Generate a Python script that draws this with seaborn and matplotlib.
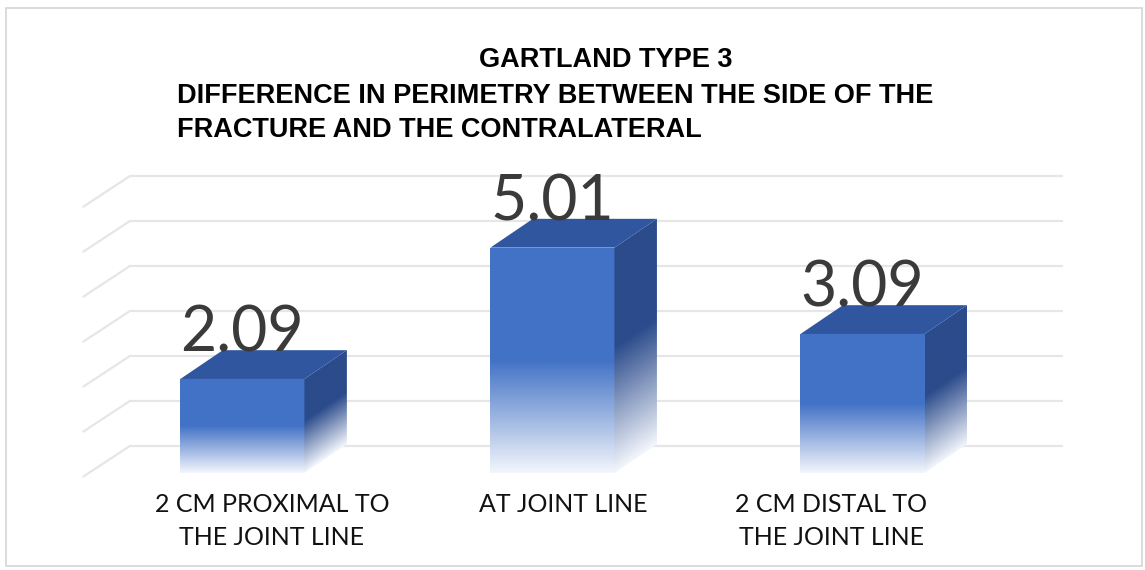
import numpy as np
import pandas as pd
import seaborn as sns
import matplotlib.pyplot as plt
from matplotlib.patches import Polygon, Rectangle
from matplotlib.colors import to_rgb

# data
categories = ["2 CM PROXIMAL TO\nTHE JOINT LINE", "AT JOINT LINE", "2 CM DISTAL TO\nTHE JOINT LINE"]
values = [2.09, 5.01, 3.09]
value_labels = ["2.09", "5.01", "3.09"]
grid_levels = [0, 1, 2, 3, 4, 5, 6]

title_top = "GARTLAND TYPE 3"
title_rest = "DIFFERENCE IN PERIMETRY BETWEEN THE SIDE OF THE\nFRACTURE AND THE CONTRALATERAL"

# look
front_col = to_rgb("#4272c6")
top_col = to_rgb("#2f569f")
side_col = to_rgb("#2b4b8b")
fade_col = to_rgb("#f3f6fc")
grid_col = "#e6e6e6"
dx, dy = 0.137, 0.64          # depth offset of the 3d boxes (data units)
label_shift = [0.095, 0.035, -0.10]

sns.set_style("white")
plt.rcParams['font.family'] = ['Lato', 'DejaVu Sans']

W, H = 1145, 570
fig = plt.figure(figsize=(W / 100, H / 100), dpi=100)
ax = fig.add_axes([70 / W, (H - 480) / H, 1030 / W, 330 / H])

df = pd.DataFrame({"cat": categories, "val": values})
sns.barplot(data=df, x="cat", y="val", width=0.40, color=front_col, ax=ax, zorder=3)


def ramp(f, base):
    # solid in the upper half, fading to white at the floor
    t = np.clip(f / 0.5, 0, 1)[..., None]
    rgb = np.array(fade_col) * (1 - t) + np.array(base) * t
    return rgb


# back wall gridlines + left side wall
x_back_left = -0.363
x_back_right = 2.643
for g in grid_levels:
    yy = g + 0.6
    ax.plot([x_back_left, x_back_right], [yy, yy], color=grid_col, lw=1.6, zorder=1)
    ax.plot([x_back_left - 0.15, x_back_left], [yy - 0.68, yy], color=grid_col, lw=1.6, zorder=1)

bars = list(ax.patches)
for bar, v, lab in zip(bars, values, value_labels):
    x0 = bar.get_x()
    x1 = x0 + bar.get_width()
    bar.set_facecolor("none")
    bar.set_edgecolor("none")

    # front face gradient
    fy = np.linspace(1, 0, 200)
    img = ramp(fy, front_col)[:, None, :]
    im = ax.imshow(img, extent=[x0, x1, 0, v], aspect="auto", zorder=3,
                   interpolation="bilinear")
    im.set_clip_path(bar)

    # side face
    side = Polygon([(x1, 0), (x1 + dx, dy), (x1 + dx, v + dy), (x1, v)],
                   closed=True, facecolor="none", edgecolor="none", zorder=3)
    ax.add_patch(side)
    gx = np.linspace(x1, x1 + dx, 60)
    gy = np.linspace(v + dy, 0, 300)
    XX, YY = np.meshgrid(gx, gy)
    hh = YY - (XX - x1) / dx * dy
    simg = ramp(hh / v * 0.9, side_col)
    im2 = ax.imshow(simg, extent=[x1, x1 + dx, 0, v + dy], aspect="auto", zorder=3,
                    interpolation="bilinear")
    im2.set_clip_path(side)

    # top face
    top = Polygon([(x0, v), (x0 + dx, v + dy), (x1 + dx, v + dy), (x1, v)],
                  closed=True, facecolor=top_col, edgecolor="none", zorder=4)
    ax.add_patch(top)

    ax.text((x0 + x1) / 2, v + dy - 0.03, lab, ha="center", va="baseline",
            fontsize=45, color="#3a3a3a", zorder=5)

ax.set_xlim(-0.556, 2.766)
ax.set_ylim(-0.156, 7.18)
ax.set_xlabel("")
ax.set_ylabel("")
ax.set_yticks([])
ax.set_xticks(np.arange(len(categories)) + np.array(label_shift))
ax.set_xticklabels(categories, fontsize=18, color="#111111", linespacing=1.55)
ax.tick_params(axis="x", length=0, pad=9)
sns.despine(ax=ax, left=True, bottom=True)

title_font = ["Liberation Sans", "DejaVu Sans"]
fig.text(606 / W, 1 - 60 / H, title_top, ha="center", va="center", color="black",
         fontsize=19.5, fontweight="bold", family=title_font)
fig.text(177 / W, 1 - 113 / H, title_rest, ha="left", va="center", color="black",
         fontsize=19.5, fontweight="bold", family=title_font, linespacing=1.4)

fig.patches.append(Rectangle((6 / W, 4 / H), 1136 / W, 558 / H, transform=fig.transFigure,
                             facecolor="none", edgecolor="#d6d6d6", lw=1.2))

fig.savefig("out.png", dpi=100)
